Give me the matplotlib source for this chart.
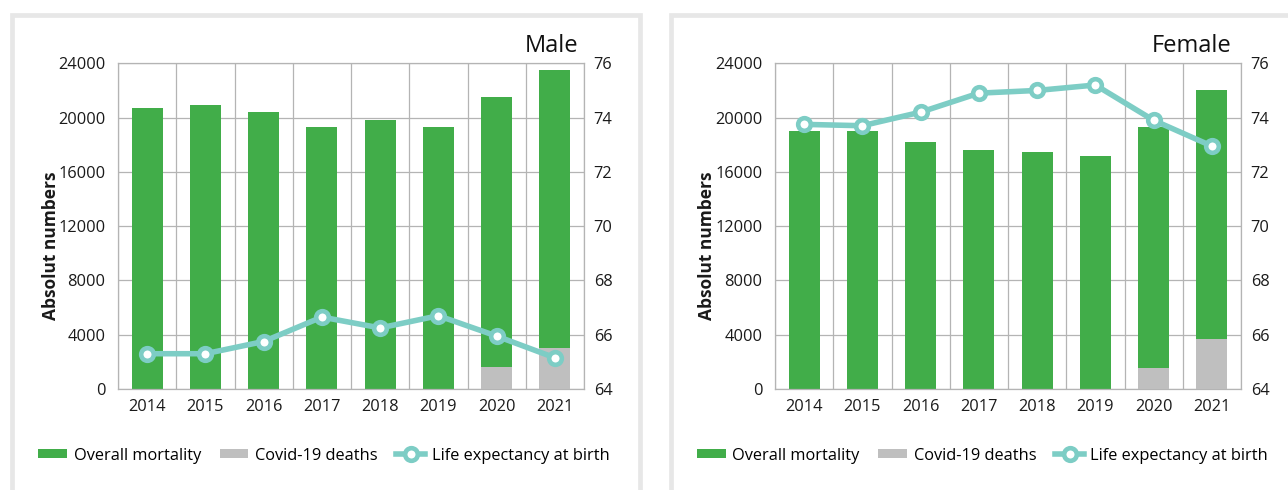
import matplotlib.pyplot as plt
import matplotlib.patches as mpatches
import numpy as np

plt.rcParams["font.family"] = ["Open Sans", "DejaVu Sans"]

years = ["2014", "2015", "2016", "2017", "2018", "2019", "2020", "2021"]

male_overall = [20700, 20900, 20400, 19300, 19800, 19300, 21500, 23500]
male_covid = [0, 0, 0, 0, 0, 0, 1600, 3050]
male_life = [65.3, 65.3, 65.75, 66.65, 66.25, 66.7, 65.95, 65.15]

female_overall = [19000, 19000, 18200, 17600, 17500, 17150, 19300, 22000]
female_covid = [0, 0, 0, 0, 0, 0, 1530, 3700]
female_life = [73.75, 73.7, 74.2, 74.9, 75.0, 75.2, 73.9, 72.95]

GREEN = "#41ad49"
GREY = "#bfbfbf"
TEAL = "#7dcdc5"
GRID = "#b4b4b4"
FRAME = "#e7e7e7"

W, H = 1288, 490
fig = plt.figure(figsize=(W / 100, H / 100), dpi=100)


def px(x, y):
    """pixel (from top-left) -> figure fraction"""
    return x / W, 1 - y / H


def panel(left_px, overall, covid, life, title, title_x, label_x):
    """One mortality panel with life expectancy on the right axis."""
    x0, _ = px(left_px, 0)
    _, y0 = px(0, 389)
    ax = fig.add_axes([x0, y0, 466 / W, (389 - 63.3) / H])
    x = np.arange(len(years))

    ax.bar(x, overall, width=0.53, color=GREEN, zorder=2, label="Overall mortality")
    ax.bar(x, covid, width=0.53, color=GREY, zorder=3, label="Covid-19 deaths")

    ax.set_xlim(-0.5, len(years) - 0.5)
    ax.set_ylim(0, 24000)
    ax.set_yticks(range(0, 24001, 4000))
    ax.set_xticks(x)
    ax.set_xticklabels(years)
    ## vertical grid between categories
    ax.set_xticks(np.arange(-0.5, len(years), 1.0), minor=True)
    ax.grid(True, which="minor", axis="x", color=GRID, lw=0.9, zorder=0)
    ax.grid(True, which="major", axis="y", color=GRID, lw=0.9, zorder=0)
    ax.set_axisbelow(True)
    ax.tick_params(which="both", length=0, labelsize=11.8, colors="#1a1a1a")
    ax.tick_params(axis="y", pad=9)
    ax.tick_params(axis="x", pad=7)
    for s in ax.spines.values():
        s.set_color(GRID)
        s.set_linewidth(0.9)

    ax.set_ylabel("Absolut numbers", fontsize=12.5, fontweight="bold", color="#1a1a1a")
    ax.yaxis.set_label_coords(label_x, 0.44)

    ax2 = ax.twinx()
    ax2.plot(x, life, color=TEAL, lw=4, marker="o", ms=9.1, mew=3.3,
             mfc="white", mec=TEAL, zorder=5, label="Life expectancy at birth")
    ax2.set_ylim(64, 76)
    ax2.set_yticks(range(64, 77, 2))
    ax2.tick_params(length=0, labelsize=11.8, colors="#1a1a1a", pad=7)
    for s in ax2.spines.values():
        s.set_visible(False)

    ax.text(title_x, 1.035, title, transform=ax.transAxes, ha="right",
            va="baseline", fontsize=17, color="#111111")
    return ax, ax2


def add_legend(ax, ax2, left_px):
    h1, l1 = ax.get_legend_handles_labels()
    h2, l2 = ax2.get_legend_handles_labels()
    fig.legend(h1 + h2, l1 + l2, loc="center left",
               bbox_to_anchor=px(left_px, 455.5), ncol=3, frameon=False,
               fontsize=11.8, handlelength=1.75, handleheight=0.43,
               handletextpad=0.4, columnspacing=1.15, borderpad=0,
               borderaxespad=0)


## light grey panel frames (bottom edge runs off the picture)
for fx0, fx1 in [(11.6, 639.5), (670.8, 1400)]:
    (a, b) = px(fx0, 15)
    (c, _) = px(fx1, 15)
    rect = mpatches.Rectangle((a, -0.2), c - a, b + 0.2, transform=fig.transFigure,
                              fill=False, edgecolor=FRAME, lw=3.4, zorder=0)
    fig.add_artist(rect)

ax_m, ax_m2 = panel(118, male_overall, male_covid, male_life, "Male", 0.987, -0.124)
add_legend(ax_m, ax_m2, 38.3)

ax_f, ax_f2 = panel(775, female_overall, female_covid, female_life, "Female", 0.979, -0.126)
add_legend(ax_f, ax_f2, 697)

plt.savefig("out.png", dpi=100)
plt.close()
